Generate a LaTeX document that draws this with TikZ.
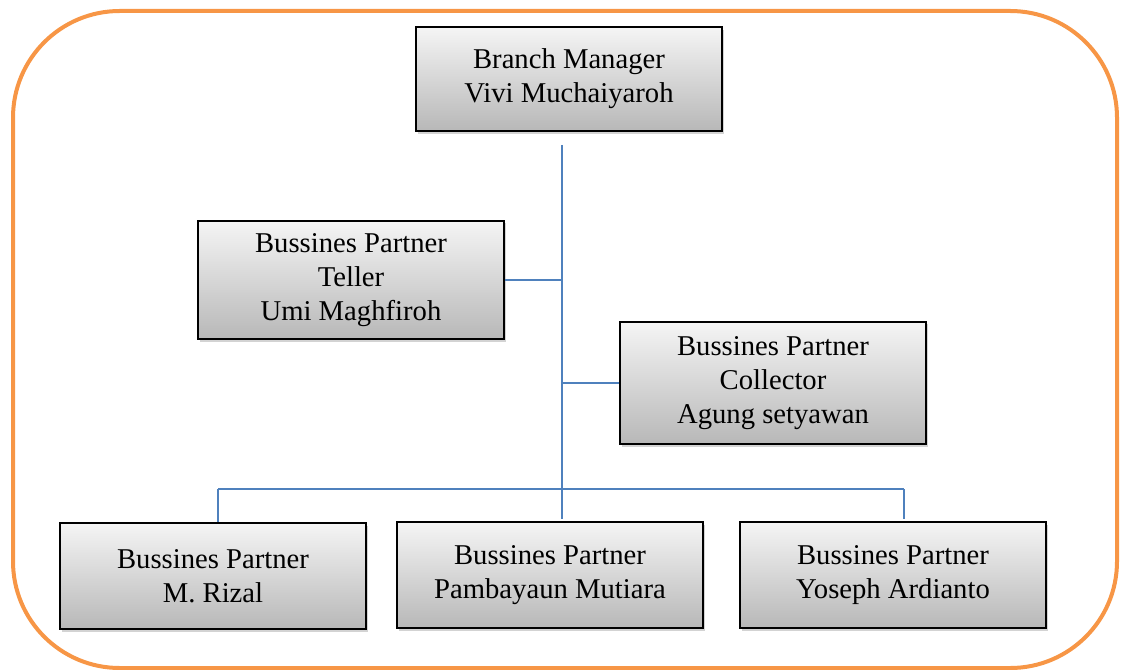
\documentclass[tikz,border=0pt]{standalone}
\usepackage{fontspec}
\setmainfont{Liberation Serif}
\usepackage{tikz}
\usetikzlibrary{shadows}
\definecolor{frameorange}{RGB}{247,150,70}
\definecolor{lineblue}{RGB}{79,129,189}

\begin{document}
\begin{tikzpicture}[x=0.75pt,y=-0.75pt]
\tikzstyle{card}=[draw=black,line width=1.5pt,top color=white!96!black,bottom color=black!28,
  drop shadow={shadow xshift=1.5pt,shadow yshift=-2pt,opacity=0.35},
  minimum width=229.5pt,align=center,font=\fontsize{21.5}{25.5}\selectfont,
  execute at begin node={\rule{0pt}{21pt}}];
\tikzstyle{link}=[lineblue,line width=1.2pt];
\useasboundingbox (0,0) rectangle (1123,670);
\draw [frameorange,line width=3pt,rounded corners=80pt] (13,11) rectangle (1117,668);
\node (bm) [card,minimum height=78pt] at (569,79) {Branch Manager\\Vivi Muchaiyaroh};
\node (tel) [card,minimum height=89pt] at (351,280) {Bussines Partner\\Teller\\Umi Maghfiroh};
\node (col) [card,minimum height=92pt] at (773,383) {Bussines Partner\\Collector\\Agung setyawan};
\node (riz) [card,minimum height=79.5pt] at (213,576) {Bussines Partner\\M. Rizal};
\node (pam) [card,minimum height=79.5pt] at (550,575) {Bussines Partner\\Pambayaun Mutiara};
\node (yos) [card,minimum height=79.5pt] at (893,575) {Bussines Partner\\Yoseph Ardianto};
\coordinate (top) at (562,145);
\coordinate (busl) at (218,489);
\coordinate (busr) at (904,489);
\draw [link] (top) -- ([yshift=1.5pt]top |- pam.north);
\draw [link] (tel.east) -- (tel.east -| top);
\draw [link] (col.west) -- (col.west -| top);
\draw [link] (busl) -- (busr);
\draw [link] (busl) -- (busl |- riz.north);
\draw [link] (busr) -- ([yshift=1.5pt]busr |- yos.north);
\end{tikzpicture}
\end{document}
